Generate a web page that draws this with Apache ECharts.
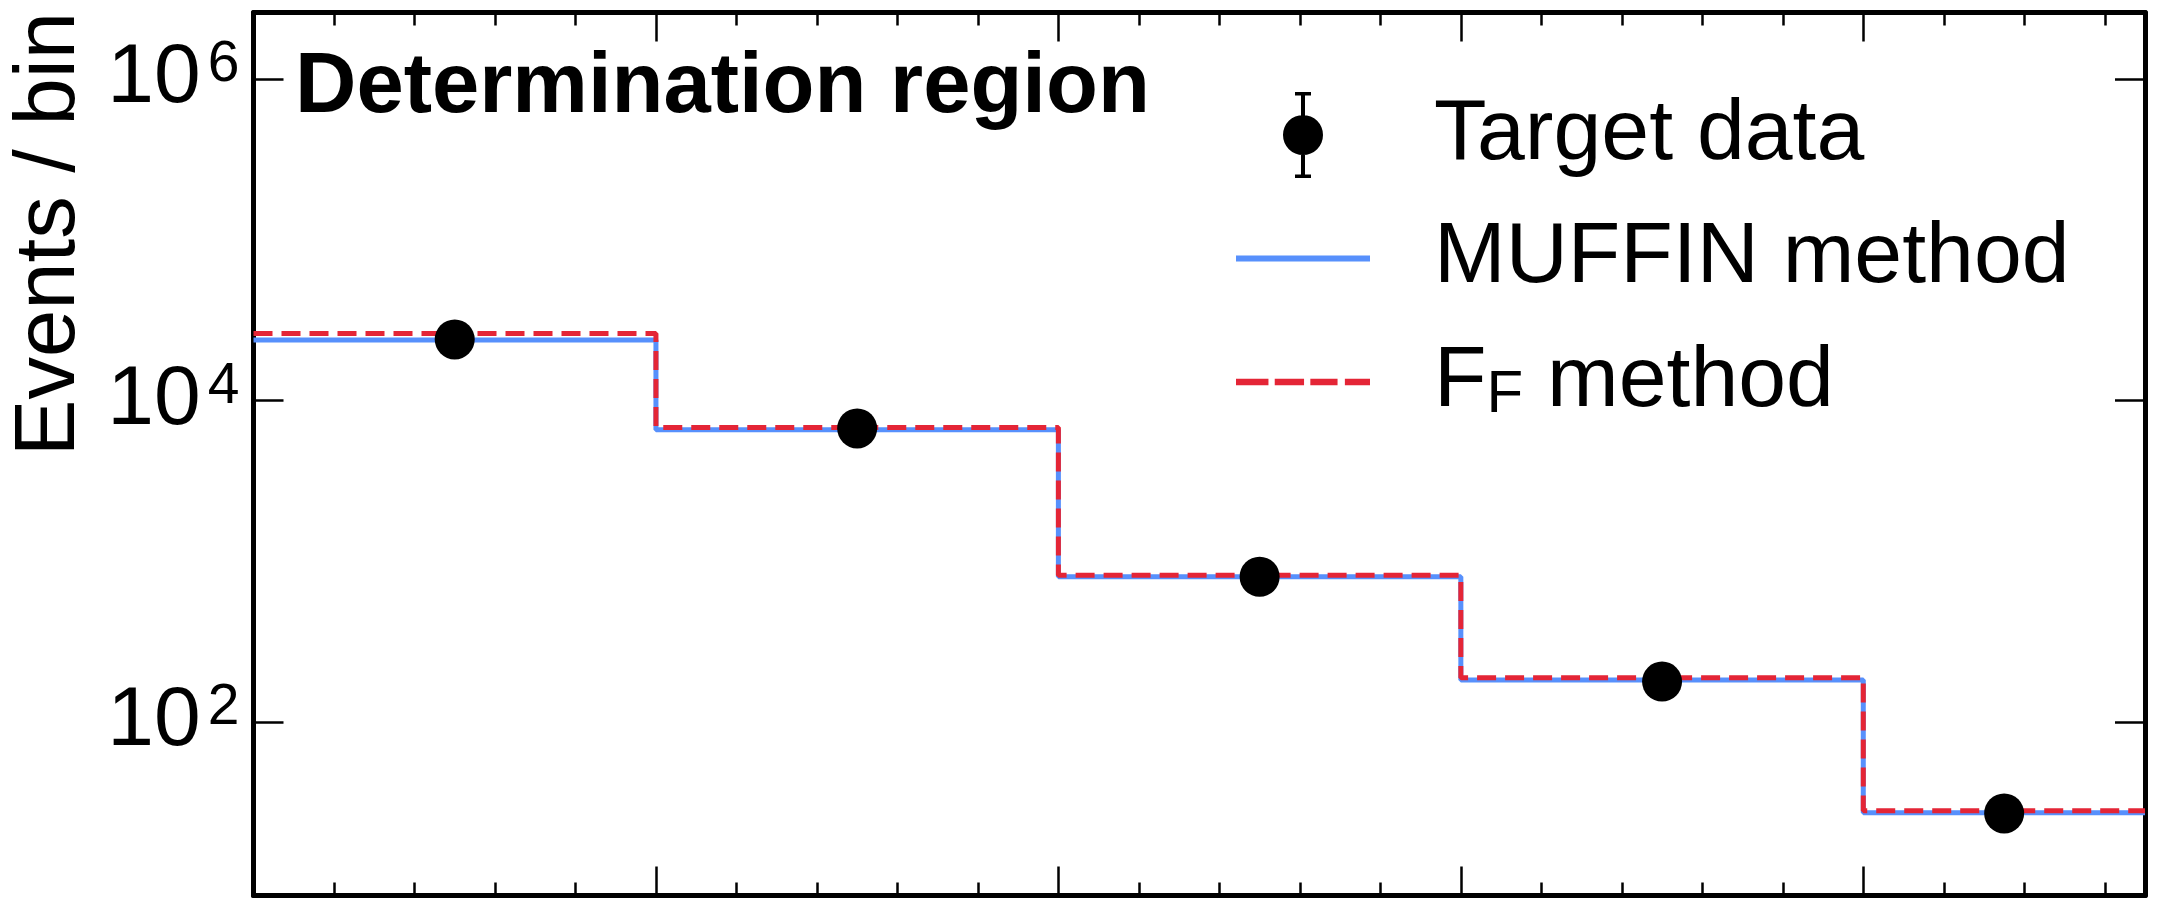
<!DOCTYPE html>
<html><head><meta charset="utf-8">
<script src="https://cdn.jsdelivr.net/npm/echarts@6/dist/echarts.min.js"></script>
<style>html,body{margin:0;padding:0;background:#fff}#c{width:2178px;height:898px}</style>
</head><body><div id="c"></div>
<script>
// ---- data ----
const binEdges   = [0, 1, 2, 3, 4, 4.7];
const targetData = [23990, 6700, 800, 178, 26.9];
const muffin     = [23770, 6580, 800, 182, 27.2];
const ffMethod   = [26170, 6780, 817, 188, 28.0];
const yTickValues = [1e2, 1e4, 1e6];
const names = ['Target data', 'MUFFIN method', 'FF method'];
const yLabel = 'Events / bin';
const regionLabel = 'Determination region';

const FONT = '"Liberation Sans", Arial, Helvetica, sans-serif';
const BLUE = '#5790fc', RED = '#e42536';

function stepData(vals) {
  const d = vals.map((v, i) => [binEdges[i], v]);
  d.push([binEdges[binEdges.length - 1], vals[vals.length - 1]]);
  return d;
}
const centers = vals => vals.map((v, i) => [(binEdges[i] + binEdges[i + 1]) / 2, v]);

const chart = echarts.init(document.getElementById('c'), null, {renderer: 'canvas'});

const xCommon = {
  type: 'value', min: binEdges[0], max: binEdges[binEdges.length - 1], interval: 1,
  axisLine: {show: true, onZero: false, lineStyle: {color: '#000', width: 5}},
  axisTick: {show: true, inside: true, length: 29, lineStyle: {color: '#000', width: 2.5}},
  minorTick: {show: true, splitNumber: 5, length: 13, lineStyle: {color: '#000', width: 2.5}},
  axisLabel: {show: false}, splitLine: {show: false}, minorSplitLine: {show: false}
};
const yCommon = {
  type: 'log', logBase: 100, min: 8.3, max: 2.6e6,
  axisLine: {show: true, onZero: false, lineStyle: {color: '#000', width: 5}},
  axisTick: {show: true, inside: true, length: 30, lineStyle: {color: '#000', width: 2.5}},
  splitLine: {show: false}
};

const errIcon = 'path://M59,0H75V3.5H59Z M65,0H69V86H65Z M59,82.5H75V86H59Z M47,43A20,20,0,1,1,87,43A20,20,0,1,1,47,43Z';
const solidIcon = 'path://M0,40H134V46H0Z';
const dashIcon = 'path://M2,40H33V46H2Z M39,40H67V46H39Z M73,40H99V46H73Z M106,40H130V46H106Z';

const option = {
  animation: false,
  backgroundColor: '#fff',
  grid: {left: 253.5, right: 33, top: 12.5, bottom: 2.5, containLabel: false},
  xAxis: [
    Object.assign({}, xCommon, {position: 'bottom'}),
    Object.assign({}, xCommon, {position: 'top'})
  ],
  yAxis: [
    Object.assign({}, yCommon, {
      position: 'left',
      axisLabel: {
        show: true, margin: 14, showMinLabel: false, showMaxLabel: false,
        formatter: v => {
          const e = Math.round(Math.log10(v));
          if (!yTickValues.some(t => Math.abs(t - v) / t < 1e-6)) return '';
          return '{b|10}{s|' + e + '}';
        },
        rich: {
          b: {fontSize: 84, lineHeight: 84, fontFamily: FONT, color: '#000'},
          s: {fontSize: 57, lineHeight: 40, verticalAlign: 'top', fontFamily: FONT, color: '#000', padding: [0, 0, 0, 7]}
        }
      }
    }),
    Object.assign({}, yCommon, {position: 'right', axisLabel: {show: false}})
  ],
  legend: {
    show: true, orient: 'vertical', left: 1231, top: 87,
    itemWidth: 134, itemHeight: 86, itemGap: 37.5,
    selectedMode: false,
    textStyle: {fontSize: 86, lineHeight: 86, fontFamily: FONT, color: '#000', padding: [0, 0, 0, 59],
      rich: {
        m: {fontSize: 86, lineHeight: 86, fontFamily: FONT, color: '#000'},
        s: {fontSize: 60, lineHeight: 47, verticalAlign: 'bottom', fontFamily: FONT, color: '#000'}
      }
    },
    formatter: n => n === names[2] ? '{m|F}{s|F}{m| method}' : '{m|' + n + '}',
    data: [
      {name: names[0], icon: errIcon, itemStyle: {color: '#000', opacity: 1, borderWidth: 0}},
      {name: names[1], icon: solidIcon, itemStyle: {color: BLUE, opacity: 1, borderWidth: 0}, lineStyle: {width: 0}},
      {name: names[2], icon: dashIcon, itemStyle: {color: RED, opacity: 1, borderWidth: 0}, lineStyle: {width: 0}}
    ]
  },
  graphic: [
    {type: 'text', x: 51, y: 12, rotation: Math.PI / 2,
      style: {text: yLabel, font: '85px ' + FONT, fill: '#000', textAlign: 'right', textVerticalAlign: 'middle'}},
    {type: 'text', x: 295, y: 89,
      style: {text: regionLabel, font: 'bold 85px ' + FONT, fill: '#000', textAlign: 'left', textVerticalAlign: 'middle'}}
  ],
  series: [
    {name: names[1], type: 'line', step: 'end', data: stepData(muffin), symbol: 'none', showSymbol: false,
      lineStyle: {color: BLUE, width: 5}, itemStyle: {color: BLUE}, z: 2},
    {name: names[2], type: 'line', step: 'end', data: stepData(ffMethod), symbol: 'none', showSymbol: false,
      lineStyle: {color: RED, width: 5, type: [19, 9]}, itemStyle: {color: RED}, z: 3},
    {name: names[0], type: 'scatter', data: centers(targetData), symbol: 'circle', symbolSize: 40,
      itemStyle: {color: '#000', opacity: 1}, z: 4}
  ]
};
chart.setOption(option);
</script></body></html>
